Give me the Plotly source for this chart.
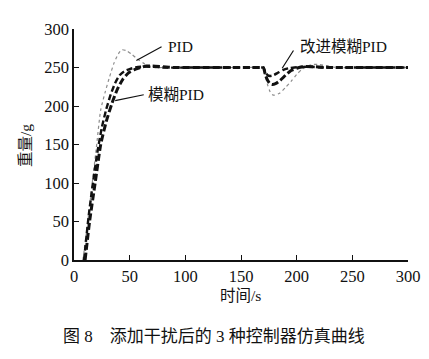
import plotly.graph_objects as go

# PID (thin grey dotted)
t_pid = [8, 12, 16, 20, 24, 28, 32, 36, 40, 43, 47, 52, 57, 62, 67, 72, 80, 100, 140, 168,
         170, 172, 174, 176, 178, 180, 185, 190, 195, 200, 205, 210, 215, 220, 228, 235, 260, 300]
y_pid = [0, 45, 95, 145, 195, 218, 238, 256, 268, 273, 272, 267, 261, 256, 252, 250, 250, 250, 250, 250,
         249, 238, 227, 219, 215, 214, 217, 224, 232, 241, 248, 252, 254, 254, 252, 250, 250, 250]

# 模糊PID (thick black dashed)
t_fuzzy = [10, 14, 19, 24, 29, 34, 39, 44, 49, 54, 60, 65, 70, 80, 90, 120, 168,
           170, 172, 174, 176, 178, 181, 185, 190, 195, 200, 205, 215, 230, 260, 300]
y_fuzzy = [0, 50, 100, 150, 180, 203, 222, 235, 243, 247, 250, 252, 252, 251, 250, 250, 250,
           250, 240, 233, 229, 228, 229, 233, 240, 246, 249, 251, 251, 250, 250, 250]

# 改进模糊PID (black dashed)
t_impr = [9, 13, 17, 21, 25, 29, 33, 37, 41, 45, 50, 55, 60, 70, 80, 120, 168,
          170, 172, 174, 176, 179, 183, 188, 193, 198, 210, 225, 260, 300]
y_impr = [0, 55, 100, 140, 172, 196, 215, 230, 240, 245, 248, 250, 251, 251, 250, 250, 250,
          250, 244, 240, 239, 240, 243, 247, 249, 250, 251, 250, 250, 250]

x_ticks = [0, 50, 100, 150, 200, 250, 300]
y_ticks = [0, 50, 100, 150, 200, 250, 300]

FONT = "Liberation Serif, Times New Roman, serif"
CJK = "Liberation Serif, Noto Sans CJK SC, serif"

fig = go.Figure()
fig.add_trace(go.Scatter(x=t_pid, y=y_pid, mode="lines", name="PID",
                         line=dict(color="#8c8c8c", width=1.2, dash="dot", shape="spline", smoothing=0.6)))
fig.add_trace(go.Scatter(x=t_impr, y=y_impr, mode="lines", name="改进模糊PID",
                         line=dict(color="#111111", width=2.4, dash="6px,3px", shape="spline", smoothing=0.6)))
fig.add_trace(go.Scatter(x=t_fuzzy, y=y_fuzzy, mode="lines", name="模糊PID",
                         line=dict(color="#111111", width=3.0, dash="7px,3px", shape="spline", smoothing=0.6)))

fig.update_layout(
    width=429, height=359,
    margin=dict(l=66, r=29, t=15, b=107),
    paper_bgcolor="white", plot_bgcolor="white",
    showlegend=False,
    font=dict(family=FONT, size=16, color="#111111"),
    xaxis=dict(range=[0, 300], tickvals=x_ticks, ticktext=[str(v) for v in x_ticks],
               showgrid=False, zeroline=False, showline=True, linecolor="#111111", linewidth=1.5,
               ticks="inside", ticklen=5, tickcolor="#111111", tickwidth=1.3,
               tickfont=dict(family=FONT, size=16.5)),
    yaxis=dict(range=[0, 300], tickvals=y_ticks, ticktext=[str(v) for v in y_ticks],
               showgrid=False, zeroline=False, showline=True, linecolor="#111111", linewidth=1.5,
               ticks="inside", ticklen=5, tickcolor="#111111", tickwidth=1.3,
               tickfont=dict(family=FONT, size=16.5)),
)

# curve labels with leader lines (data coordinates)
for (x0, y0, x1, y1) in [(56, 259, 80, 278), (37, 207, 64, 215), (187, 249, 198, 274)]:
    fig.add_annotation(x=x0, y=y0, ax=x1, ay=y1, axref="x", ayref="y", xref="x", yref="y",
                       text="", showarrow=True, arrowhead=0, arrowwidth=1.2, arrowcolor="#111111")

def px_to_paper(px, py):
    return (px - 66) / 334.0, (252 - py) / 237.0

for txt, (px, py) in [("PID", (172, 33)), ("模糊PID", (168, 82)), ("改进模糊PID", (335, 33))]:
    xp, yp = px_to_paper(px, py)
    fig.add_annotation(x=xp, y=yp, xref="paper", yref="paper", text=txt, showarrow=False,
                       font=dict(family=CJK, size=15.5, color="#111111"), xanchor="center", yanchor="middle")

# axis titles and caption
xp, yp = px_to_paper(232, 288)
fig.add_annotation(x=xp, y=yp, xref="paper", yref="paper", text="时间/s", showarrow=False,
                   font=dict(family=CJK, size=15.5, color="#111111"), xanchor="center", yanchor="middle")
xp, yp = px_to_paper(18, 135)
fig.add_annotation(x=xp, y=yp, xref="paper", yref="paper", text="重量/g", showarrow=False, textangle=-90,
                   font=dict(family=CJK, size=15.5, color="#111111"), xanchor="center", yanchor="middle")
xp, yp = px_to_paper(206, 330)
fig.add_annotation(x=xp, y=yp, xref="paper", yref="paper", text="图 8　添加干扰后的 3 种控制器仿真曲线",
                   showarrow=False, font=dict(family=CJK, size=17, color="#111111"),
                   xanchor="center", yanchor="middle")

fig.write_html("out.html")
